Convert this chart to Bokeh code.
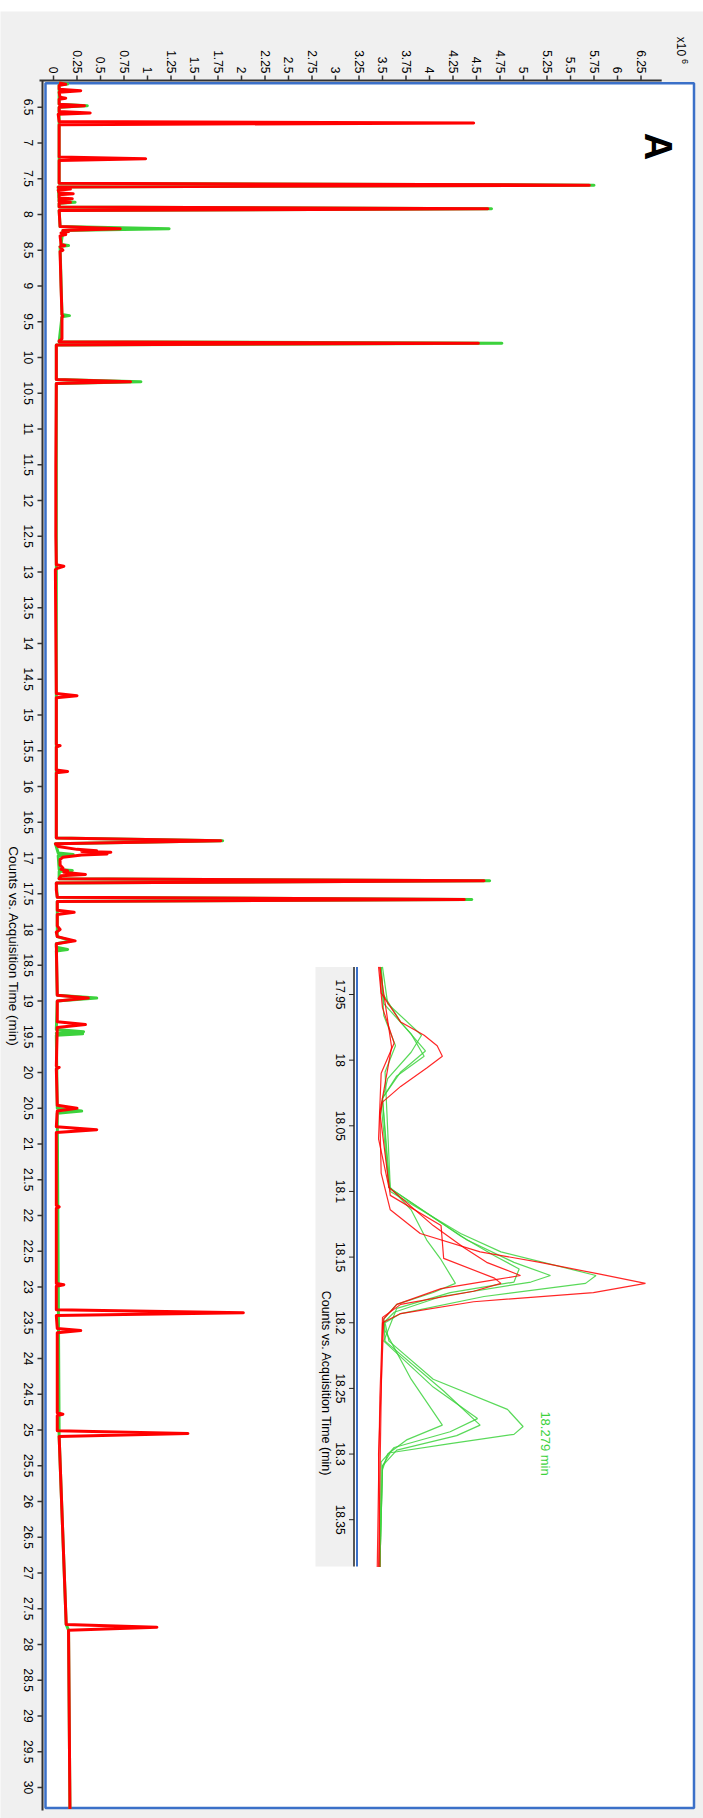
import math
from bokeh.plotting import figure
from bokeh.models import Range1d, Spacer
from bokeh.layouts import column
from bokeh.embed import file_html
from bokeh.resources import INLINE
from bokeh.core.properties import value

FONT = "Liberation Sans"
GRAY = "#f0f0f0"
BLUE = "#3b70c8"
RED = "#ff0000"
GREEN = "#3cd23c"
AXIS = "#333333"

# ---------------- main chromatogram: time (min) / counts (x10^6) ----------------
red_time = [
    6.160, 6.180, 6.195, 6.250, 6.270, 6.290, 6.360, 6.375, 6.390,
    6.460, 6.480, 6.500, 6.560, 6.580, 6.600, 6.700, 6.720, 6.745,
    7.195, 7.220, 7.245, 7.565, 7.590, 7.615, 7.635, 7.645, 7.660,
    7.700, 7.710, 7.725, 7.770, 7.780, 7.795, 7.820, 7.830, 7.845,
    7.895, 7.920, 7.945, 8.170, 8.200, 8.225, 8.240, 8.260, 8.280,
    8.300, 8.420, 8.435, 8.450, 8.500, 8.520, 9.000, 9.400, 9.420,
    9.440, 9.740, 9.770, 9.780, 9.800, 9.825, 10.310, 10.340, 10.365,
    11.500, 12.500, 12.900, 12.920, 12.950, 12.970, 14.700, 14.730, 14.760,
    15.410, 15.430, 15.450, 15.770, 15.790, 15.810, 16.720, 16.760, 16.800,
    16.840, 16.880, 16.900, 16.910, 16.920, 16.935, 16.945, 16.960, 16.990,
    17.020, 17.100, 17.140, 17.160, 17.180, 17.200, 17.230, 17.250, 17.290,
    17.320, 17.350, 17.450, 17.550, 17.580, 17.610, 17.730, 17.760, 17.790,
    17.950, 18.000, 18.040, 18.100, 18.160, 18.200, 18.920, 18.960, 19.000,
    19.290, 19.330, 19.370, 19.910, 19.930, 19.950, 20.460, 20.500, 20.540,
    20.760, 20.800, 20.840, 21.860, 21.880, 21.900, 22.950, 22.970, 22.990,
    23.320, 23.360, 23.400, 23.580, 23.610, 23.640, 24.760, 24.780, 24.800,
    25.010, 25.050, 25.090, 27.720, 27.760, 27.800, 30.300,
]
red_counts = [
    0.06, 0.13, 0.06, 0.06, 0.29, 0.06, 0.07, 0.13, 0.06,
    0.06, 0.33, 0.06, 0.06, 0.39, 0.05, 0.06, 4.47, 0.06,
    0.06, 0.98, 0.06, 0.06, 5.70, 0.05, 0.06, 0.18, 0.05,
    0.06, 0.21, 0.06, 0.06, 0.20, 0.06, 0.06, 0.18, 0.06,
    0.06, 4.62, 0.06, 0.07, 0.71, 0.10, 0.16, 0.08, 0.13,
    0.07, 0.08, 0.12, 0.07, 0.10, 0.07, 0.08, 0.09, 0.10,
    0.09, 0.09, 0.06, 0.06, 4.52, 0.03, 0.03, 0.82, 0.03,
    0.025, 0.025, 0.03, 0.11, 0.04, 0.02, 0.03, 0.25, 0.03,
    0.03, 0.07, 0.03, 0.03, 0.15, 0.03, 0.03, 1.78, 0.02,
    0.05, 0.25, 0.46, 0.30, 0.61, 0.45, 0.57, 0.30, 0.10,
    0.07, 0.07, 0.10, 0.08, 0.15, 0.11, 0.34, 0.08, 0.06,
    4.58, 0.03, 0.03, 0.04, 4.37, 0.04, 0.04, 0.22, 0.04,
    0.04, 0.07, 0.03, 0.04, 0.23, 0.03, 0.04, 0.37, 0.04,
    0.04, 0.34, 0.04, 0.03, 0.06, 0.03, 0.04, 0.25, 0.04,
    0.03, 0.46, 0.03, 0.03, 0.06, 0.03, 0.03, 0.11, 0.03,
    0.03, 2.02, 0.03, 0.04, 0.29, 0.04, 0.04, 0.10, 0.04,
    0.04, 1.43, 0.06, 0.135, 1.10, 0.16, 0.175,
]

green_time = [
    6.160, 6.175, 6.190, 6.460, 6.480, 6.500, 7.565, 7.590, 7.615,
    7.820, 7.830, 7.845, 7.895, 7.920, 7.945, 8.170, 8.200, 8.225,
    8.420, 8.435, 8.450, 9.400, 9.415, 9.430, 9.780, 9.800, 9.825,
    10.310, 10.340, 10.365, 16.720, 16.760, 16.800, 16.930, 16.950, 16.970,
    17.160, 17.175, 17.190, 17.290, 17.320, 17.350, 17.550, 17.580, 17.610,
    18.100, 18.160, 18.200, 18.250, 18.279, 18.300, 18.920, 18.960, 19.000,
    19.400, 19.430, 19.450, 19.460, 19.480, 20.500, 20.540, 20.570, 25.090,
    27.720, 27.800, 30.300,
]
green_counts = [
    0.06, 0.15, 0.06, 0.06, 0.36, 0.06, 0.06, 5.75, 0.05,
    0.06, 0.23, 0.06, 0.06, 4.66, 0.06, 0.07, 1.23, 0.10,
    0.08, 0.16, 0.07, 0.09, 0.17, 0.09, 0.06, 4.77, 0.03,
    0.03, 0.93, 0.03, 0.03, 1.80, 0.02, 0.05, 0.21, 0.05,
    0.06, 0.20, 0.06, 0.06, 4.64, 0.03, 0.04, 4.45, 0.04,
    0.04, 0.19, 0.03, 0.03, 0.15, 0.03, 0.04, 0.46, 0.04,
    0.03, 0.32, 0.03, 0.31, 0.03, 0.04, 0.30, 0.04, 0.06,
    0.135, 0.16, 0.175,
]

time_tick_labels = [
    "6.5", "7", "7.5", "8", "8.5", "9", "9.5", "10", "10.5", "11", "11.5", "12",
    "12.5", "13", "13.5", "14", "14.5", "15", "15.5", "16", "16.5", "17", "17.5",
    "18", "18.5", "19", "19.5", "20", "20.5", "21", "21.5", "22", "22.5", "23",
    "23.5", "24", "24.5", "25", "25.5", "26", "26.5", "27", "27.5", "28", "28.5",
    "29", "29.5", "30",
]
count_tick_labels = [
    "0", "0.25", "0.5", "0.75", "1", "1.25", "1.5", "1.75", "2", "2.25", "2.5",
    "2.75", "3", "3.25", "3.5", "3.75", "4", "4.25", "4.5", "4.75", "5", "5.25",
    "5.5", "5.75", "6", "6.25",
]
axis_title = "Counts vs. Acquisition Time (min)"
count_scale_text = "x10"
count_scale_power = "6"

# ---------------- zoomed inset 17.93 - 18.39 min ----------------
inset_tick_labels = ["17.95", "18", "18.05", "18.1", "18.15", "18.2", "18.25", "18.3", "18.35"]
inset_peak_label = "18.279 min"
inset_peak_time = 18.279

inset_red_a_time = [17.929, 17.949, 17.971, 17.981, 17.989, 17.997, 18.006, 18.020, 18.032, 18.043,
                    18.086, 18.114, 18.132, 18.146, 18.154, 18.163, 18.170, 18.177, 18.184, 18.193,
                    18.200, 18.257, 18.386]
inset_red_a_counts = [0.031, 0.032, 0.047, 0.065, 0.075, 0.079, 0.067, 0.047, 0.033, 0.031,
                      0.032, 0.039, 0.062, 0.108, 0.154, 0.200, 0.235, 0.195, 0.103, 0.047,
                      0.033, 0.031, 0.029]
inset_red_b_time = [17.929, 17.960, 17.987, 18.010, 18.060, 18.097, 18.126, 18.143, 18.154, 18.164,
                    18.167, 18.174, 18.186, 18.197, 18.300, 18.386]
inset_red_b_counts = [0.030, 0.033, 0.042, 0.032, 0.030, 0.038, 0.072, 0.096, 0.113, 0.139,
                      0.121, 0.078, 0.044, 0.034, 0.030, 0.031]
inset_red_c_time = [17.929, 17.990, 18.040, 18.103, 18.126, 18.151, 18.166, 18.170, 18.176, 18.186,
                    18.196, 18.320, 18.386]
inset_red_c_counts = [0.031, 0.040, 0.031, 0.039, 0.078, 0.080, 0.119, 0.124, 0.103, 0.047,
                      0.033, 0.031, 0.030]

inset_green_a_time = [17.929, 17.949, 17.971, 17.993, 18.009, 18.029, 18.100, 18.132, 18.146, 18.164,
                      18.170, 18.180, 18.193, 18.200, 18.214, 18.243, 18.266, 18.279, 18.285, 18.292,
                      18.299, 18.309, 18.386]
inset_green_a_counts = [0.032, 0.033, 0.047, 0.066, 0.047, 0.033, 0.039, 0.093, 0.124, 0.197,
                        0.189, 0.111, 0.047, 0.035, 0.038, 0.072, 0.129, 0.141, 0.134, 0.085,
                        0.039, 0.033, 0.031]
inset_green_b_time = [17.929, 17.957, 17.981, 17.994, 18.014, 18.034, 18.097, 18.137, 18.154, 18.164,
                      18.169, 18.180, 18.192, 18.200, 18.214, 18.252, 18.278, 18.286, 18.297, 18.309,
                      18.386]
inset_green_b_counts = [0.033, 0.037, 0.063, 0.055, 0.037, 0.032, 0.038, 0.098, 0.134, 0.162,
                        0.147, 0.078, 0.042, 0.034, 0.035, 0.080, 0.108, 0.090, 0.044, 0.033,
                        0.031]
inset_green_c_time = [17.929, 17.957, 17.980, 17.997, 18.012, 18.029, 18.097, 18.134, 18.149, 18.159,
                      18.169, 18.177, 18.189, 18.214, 18.249, 18.273, 18.283, 18.295, 18.306, 18.386]
inset_green_c_counts = [0.032, 0.034, 0.055, 0.065, 0.044, 0.033, 0.038, 0.093, 0.119, 0.138,
                        0.134, 0.085, 0.044, 0.034, 0.072, 0.106, 0.085, 0.042, 0.032, 0.031]
inset_green_d_time = [17.929, 17.966, 17.989, 18.009, 18.097, 18.114, 18.137, 18.152, 18.170, 18.177,
                      18.186, 18.197, 18.206, 18.243, 18.278, 18.289, 18.300, 18.312, 18.386]
inset_green_d_counts = [0.032, 0.034, 0.043, 0.035, 0.039, 0.055, 0.067, 0.078, 0.089, 0.072,
                        0.044, 0.034, 0.035, 0.055, 0.079, 0.052, 0.037, 0.033, 0.031]

# ---------------- page geometry (pixels) ----------------
TOP_PAD = 11
FIG_W, FIG_H = 703, 1818 - TOP_PAD


def count_at(x):
    return (x - 53.0) / 94.0


def time_at(y):
    return 6.5 + (y - 106.7) / 71.5


def icount_at(x):
    return (x - 339.0) / 1302.0


def itime_at(y):
    return 17.95 + (y - 994.0) / 1313.0


# the plotting frame fills the whole figure; both axes are drawn in data space
p = figure(
    width=FIG_W, height=FIG_H, output_backend="svg", toolbar_location=None,
    x_axis_location=None, y_axis_location=None,
    x_range=Range1d(count_at(0), count_at(FIG_W)),
    y_range=Range1d(time_at(1818), time_at(TOP_PAD)),
    min_border=0,
    background_fill_color=GRAY, border_fill_color=GRAY, outline_line_color=None,
)
p.extra_x_ranges = {"ix": Range1d(icount_at(0), icount_at(FIG_W))}
p.extra_y_ranges = {"iy": Range1d(itime_at(1818), itime_at(TOP_PAD))}
p.grid.visible = False

txt = dict(text_font=value(FONT), text_color="#000000")

# white plotting panel with blue border
p.quad(left=[count_at(45)], right=[count_at(693.5)], top=[time_at(82.7)], bottom=[time_at(1807.5)],
       fill_color="white", line_color=BLUE, line_width=2.5)

# count axis along the top
count_ticks = [float(s) for s in count_tick_labels]
p.segment(x0=[count_at(39)], x1=[6.47], y0=[time_at(80)], y1=[time_at(80)],
          line_color=AXIS, line_width=2)
p.segment(x0=count_ticks, x1=count_ticks, y0=[time_at(75)] * len(count_ticks),
          y1=[time_at(80)] * len(count_ticks), line_color=AXIS, line_width=1.5)
p.text(x=count_ticks, y=[time_at(73)] * len(count_ticks), text=count_tick_labels,
       angle=-math.pi / 2, text_align="right", text_baseline="middle",
       text_font_size="12px", **txt)
p.text(x=[count_at(680)], y=[time_at(46)], text=[count_scale_text],
       angle=-math.pi / 2, text_align="center", text_baseline="middle",
       text_font_size="12px", **txt)
p.text(x=[count_at(684)], y=[time_at(61)], text=[count_scale_power],
       angle=-math.pi / 2, text_align="center", text_baseline="middle",
       text_font_size="9px", **txt)

# time axis on the left: line, ticks, labels reading downwards, title
time_ticks = [float(s) for s in time_tick_labels]
p.segment(x0=[count_at(42)], x1=[count_at(42)], y0=[time_at(80)], y1=[time_at(1810)],
          line_color=AXIS, line_width=2)
p.segment(x0=[count_at(37)] * len(time_ticks), x1=[count_at(42)] * len(time_ticks),
          y0=time_ticks, y1=time_ticks, line_color=AXIS, line_width=1.5)
p.text(x=[count_at(28)] * len(time_ticks), y=time_ticks, text=time_tick_labels,
       angle=-math.pi / 2, text_align="center", text_baseline="middle",
       text_font_size="12px", **txt)
p.text(x=[count_at(13)], y=[time_at(946)], text=[axis_title],
       angle=-math.pi / 2, text_align="center", text_baseline="middle",
       text_font_size="13.5px", **txt)

# main traces
p.line(x=green_counts, y=green_time, line_color=GREEN, line_width=3, line_join="round")
p.line(x=red_counts, y=red_time, line_color=RED, line_width=3, line_join="round")

# inset frame and axis
it_top, it_bot = itime_at(966.5), itime_at(1566)
p.quad(left=[icount_at(315)], right=[icount_at(353)], top=[it_top], bottom=[it_bot],
       fill_color=GRAY, line_color=None, x_range_name="ix", y_range_name="iy")
p.segment(x0=[icount_at(353.5)], x1=[icount_at(353.5)], y0=[it_top], y1=[it_bot],
          line_color="#222222", line_width=1.5, x_range_name="ix", y_range_name="iy")
p.segment(x0=[icount_at(356.5)], x1=[icount_at(356.5)], y0=[it_top], y1=[it_bot],
          line_color=BLUE, line_width=2, x_range_name="ix", y_range_name="iy")
inset_ticks = [float(s) for s in inset_tick_labels]
p.segment(x0=[icount_at(348.5)] * len(inset_ticks), x1=[icount_at(353.5)] * len(inset_ticks),
          y0=inset_ticks, y1=inset_ticks, line_color="#222222", line_width=1,
          x_range_name="ix", y_range_name="iy")
p.text(x=[icount_at(340)] * len(inset_ticks), y=inset_ticks, text=inset_tick_labels,
       angle=-math.pi / 2, text_align="center", text_baseline="middle",
       text_font_size="12px", x_range_name="ix", y_range_name="iy", **txt)
p.text(x=[icount_at(325)], y=[itime_at(1383)], text=[axis_title],
       angle=-math.pi / 2, text_align="center", text_baseline="middle",
       text_font_size="12.5px", x_range_name="ix", y_range_name="iy", **txt)

# inset traces
inset_traces = [
    (inset_green_d_time, inset_green_d_counts, GREEN),
    (inset_green_c_time, inset_green_c_counts, GREEN),
    (inset_green_b_time, inset_green_b_counts, GREEN),
    (inset_green_a_time, inset_green_a_counts, GREEN),
    (inset_red_c_time, inset_red_c_counts, RED),
    (inset_red_b_time, inset_red_b_counts, RED),
    (inset_red_a_time, inset_red_a_counts, RED),
]
for tt, cc, col in inset_traces:
    p.line(x=cc, y=tt, line_color=col, line_width=1.2, line_alpha=0.85,
           x_range_name="ix", y_range_name="iy")

p.text(x=[icount_at(545)], y=[inset_peak_time + 0.013], text=[inset_peak_label],
       angle=-math.pi / 2, text_align="center", text_baseline="middle",
       text_font=value(FONT), text_font_size="13px", text_color=GREEN,
       x_range_name="ix", y_range_name="iy")

p.text(x=[count_at(657)], y=[time_at(146)], text=["A"],
       angle=-math.pi / 2, text_align="center", text_baseline="middle",
       text_font_size="38px", text_font_style="bold", **txt)

layout = column(Spacer(width=FIG_W, height=TOP_PAD), p)
open("out.html", "w").write(file_html(layout, INLINE))
